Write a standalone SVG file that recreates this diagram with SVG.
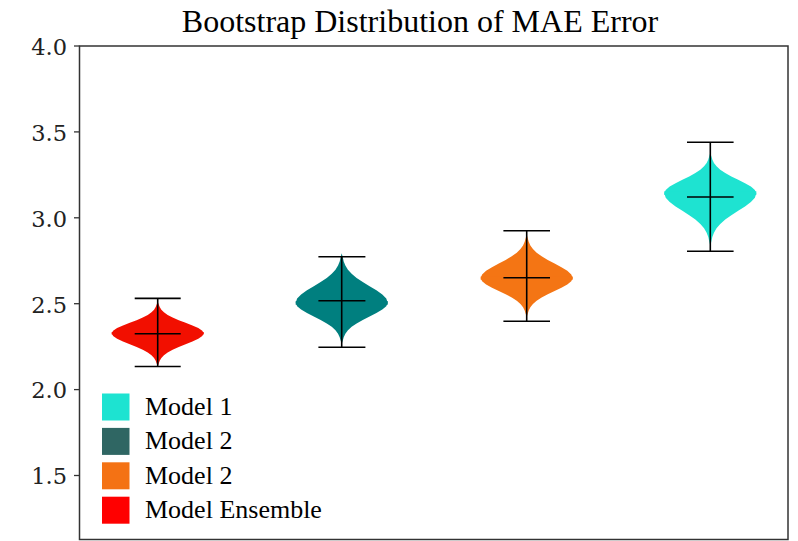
<svg xmlns="http://www.w3.org/2000/svg" xmlns:xlink="http://www.w3.org/1999/xlink" width="798" height="541" viewBox="0 0 798 541">
  <style>
    .title { font-family: "Liberation Serif", "Times New Roman", serif; font-size: 32px; fill: #000; }
    .tick { font-family: "DejaVu Serif", serif; font-size: 22.5px; fill: #222; text-anchor: end; }
    .legend-text { font-family: "Liberation Serif", "Times New Roman", serif; font-size: 26px; fill: #000; }
    .spine { fill: none; stroke: #333; stroke-width: 1.5; }
    .tickmark { stroke: #333; stroke-width: 1.3; }
    .whisker { stroke: #000; stroke-width: 1.6; fill: none; }
  </style>
  <defs>
    <!-- upper half of a kernel-density violin, in units of the bandwidth (half-width 46px) -->
    <path id="half" d="M0,-3 L1.05,-2.75 L2.02,-2.5 L3.66,-2.25 L6.23,-2 L9.95,-1.75 L14.93,-1.5 L21.06,-1.25 L27.9,-1 L34.72,-0.75 L40.6,-0.5 L44.58,-0.25 L46,0 L46,0.12 L-46,0.12 L-46,0 L-44.58,-0.25 L-40.6,-0.5 L-34.72,-0.75 L-27.9,-1 L-21.06,-1.25 L-14.93,-1.5 L-9.95,-1.75 L-6.23,-2 L-3.66,-2.25 L-2.02,-2.5 L-1.05,-2.75 Z"/>
  </defs>

  <rect x="0" y="0" width="798" height="541" fill="#fff"/>

  <text class="title" x="420" y="31.5" text-anchor="middle">Bootstrap Distribution of MAE Error</text>

  <!-- axes frame and y ticks -->
  <g id="axes">
    <rect class="spine" x="79.5" y="46" width="708.5" height="493.5"/>
    <line class="tickmark" x1="74" y1="46" x2="79.5" y2="46"/>
    <line class="tickmark" x1="74" y1="131.9" x2="79.5" y2="131.9"/>
    <line class="tickmark" x1="74" y1="217.8" x2="79.5" y2="217.8"/>
    <line class="tickmark" x1="74" y1="303.7" x2="79.5" y2="303.7"/>
    <line class="tickmark" x1="74" y1="389.6" x2="79.5" y2="389.6"/>
    <line class="tickmark" x1="74" y1="475.5" x2="79.5" y2="475.5"/>
    <text class="tick" x="67" y="54.8">4.0</text>
    <text class="tick" x="67" y="140.7">3.5</text>
    <text class="tick" x="67" y="226.6">3.0</text>
    <text class="tick" x="67" y="312.5">2.5</text>
    <text class="tick" x="67" y="398.4">2.0</text>
    <text class="tick" x="67" y="484.3">1.5</text>
  </g>

  <!-- Model Ensemble -->
  <g id="violin-ensemble">
    <use xlink:href="#half" fill="#f20f00" transform="translate(157.7,333.3) scale(1,10.5)"/>
    <use xlink:href="#half" fill="#f20f00" transform="translate(157.7,333.3) scale(1,-11)"/>
    <line class="whisker" x1="157.7" y1="298.4" x2="157.7" y2="366.5"/>
    <line class="whisker" x1="134.7" y1="298.4" x2="180.7" y2="298.4"/>
    <line class="whisker" x1="134.7" y1="366.5" x2="180.7" y2="366.5"/>
    <line class="whisker" x1="134.7" y1="333.7" x2="180.7" y2="333.7"/>
  </g>

  <!-- Model 2 (teal) -->
  <g id="violin-model2a">
    <use xlink:href="#half" fill="#007f7f" transform="translate(341.7,302.7) scale(1,16.5)"/>
    <use xlink:href="#half" fill="#007f7f" transform="translate(341.7,302.7) scale(1,-13.8)"/>
    <line class="whisker" x1="341.7" y1="256.7" x2="341.7" y2="347.3"/>
    <line class="whisker" x1="318.4" y1="256.7" x2="365.4" y2="256.7"/>
    <line class="whisker" x1="318.4" y1="347.3" x2="365.4" y2="347.3"/>
    <line class="whisker" x1="318.4" y1="300.7" x2="365.4" y2="300.7"/>
  </g>

  <!-- Model 2 (orange) -->
  <g id="violin-model2b">
    <use xlink:href="#half" fill="#f47514" transform="translate(526.7,278) scale(1,14.5)"/>
    <use xlink:href="#half" fill="#f47514" transform="translate(526.7,278) scale(1,-13)"/>
    <line class="whisker" x1="526.7" y1="230.7" x2="526.7" y2="321.3"/>
    <line class="whisker" x1="503.4" y1="230.7" x2="550" y2="230.7"/>
    <line class="whisker" x1="503.4" y1="321.3" x2="550" y2="321.3"/>
    <line class="whisker" x1="503.4" y1="277.7" x2="550" y2="277.7"/>
  </g>

  <!-- Model 1 (cyan) -->
  <g id="violin-model1">
    <use xlink:href="#half" fill="#1ee3d1" transform="translate(710.3,193.3) scale(1,13.5)"/>
    <use xlink:href="#half" fill="#1ee3d1" transform="translate(710.3,193.3) scale(1,-17.5)"/>
    <line class="whisker" x1="710.3" y1="142.3" x2="710.3" y2="251.3"/>
    <line class="whisker" x1="687" y1="142.3" x2="733.6" y2="142.3"/>
    <line class="whisker" x1="687" y1="251.3" x2="733.6" y2="251.3"/>
    <line class="whisker" x1="687" y1="197" x2="733.6" y2="197"/>
  </g>

  <!-- legend -->
  <g id="legend-model1">
    <rect x="102" y="393.5" width="27.5" height="27" fill="#1de3d1"/>
    <text class="legend-text" x="145" y="415">Model 1</text>
  </g>
  <g id="legend-model2a">
    <rect x="102" y="427.9" width="27.5" height="27" fill="#2f6663"/>
    <text class="legend-text" x="145" y="449.4">Model 2</text>
  </g>
  <g id="legend-model2b">
    <rect x="102" y="462.3" width="27.5" height="27" fill="#f47214"/>
    <text class="legend-text" x="145" y="483.8">Model 2</text>
  </g>
  <g id="legend-ensemble">
    <rect x="102" y="496.7" width="27.5" height="27" fill="#ff0000"/>
    <text class="legend-text" x="145" y="518.2">Model Ensemble</text>
  </g>
</svg>
